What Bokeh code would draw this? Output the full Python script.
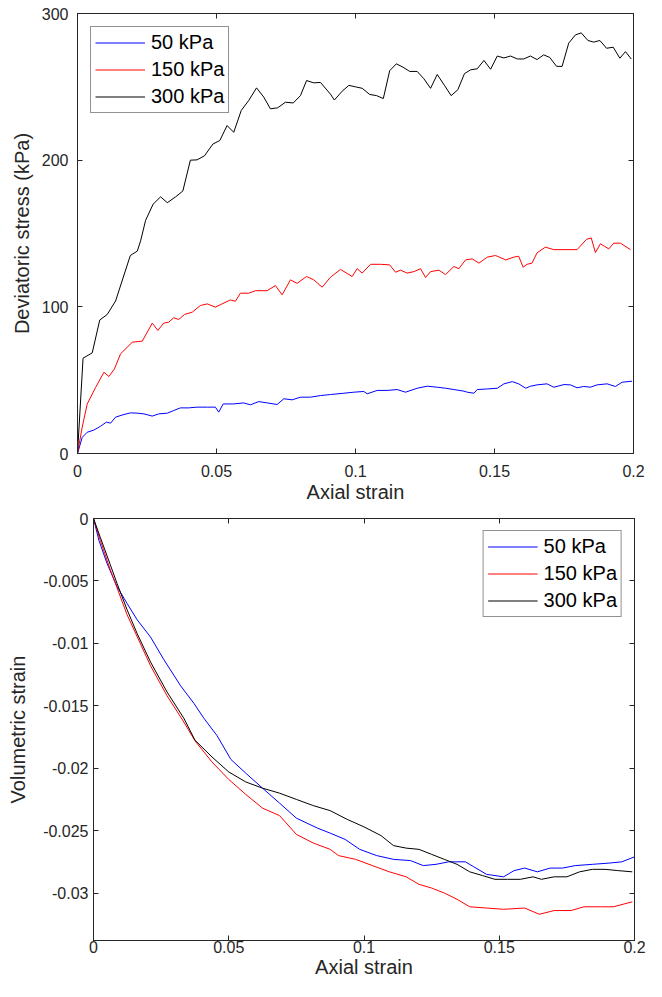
from bokeh.plotting import figure
from bokeh.models import Range1d, LinearAxis, FixedTicker, CustomJSTickFormatter, Legend, LegendItem
from bokeh.layouts import column
from bokeh.embed import file_html
from bokeh.resources import INLINE

# ---------------- data ----------------
series_names = ["50 kPa", "150 kPa", "300 kPa"]
series_colors = ["#0000FF", "#FF0000", "#000000"]

x_ticks = [0, 0.05, 0.1, 0.15, 0.2]
x_tick_labels = ["0", "0.05", "0.1", "0.15", "0.2"]
dev_ticks = [0, 100, 200, 300]
dev_tick_labels = ["0", "100", "200", "300"]
vol_ticks = [0, -0.005, -0.01, -0.015, -0.02, -0.025, -0.03]
vol_tick_labels = ["0", "-0.005", "-0.01", "-0.015", "-0.02", "-0.025", "-0.03"]

dev_50 = [(0, 0), (.0017, 11), (.0035, 14.5), (.0059, 16), (.0083, 18.6), (.0104, 21.4), (.0119, 20.7),
          (.0137, 24.8), (.0167, 26.6), (.0191, 27.7), (.0215, 27.5), (.0239, 27), (.0269, 25.5),
          (.0292, 27), (.0323, 27.5), (.0346, 29.3), (.037, 31.1), (.04, 31.1), (.043, 31.6),
          (.0467, 31.6), (.0496, 31.6), (.0508, 28.2), (.0524, 33.8), (.0562, 33.8), (.0598, 34.5),
          (.0622, 33.2), (.0652, 35.4), (.0682, 34.5), (.0718, 33.4), (.0742, 37.3), (.0772, 36.6),
          (.0802, 38.4), (.0838, 38.4), (.0874, 39.5), (.091, 40.2), (.0958, 41.1), (.0994, 41.8),
          (.103, 42.3), (.1042, 40.7), (.1078, 43), (.1114, 43), (.115, 43.6), (.118, 41.8),
          (.1222, 44.5), (.1258, 45.9), (.1294, 45.2), (.1324, 44.5), (.1354, 43.6), (.139, 42.5),
          (.1402, 41.8), (.1426, 41.1), (.1438, 43.6), (.1474, 44), (.151, 44.5), (.1534, 47.5),
          (.1564, 49), (.1587, 47.5), (.1612, 44.5), (.163, 45.9), (.1653, 46.8), (.1689, 47.5),
          (.1713, 45.2), (.175, 47), (.1773, 46.8), (.1797, 44.8), (.1821, 45.7), (.1845, 45.2),
          (.1869, 46.8), (.1905, 47.5), (.1935, 45.7), (.1959, 48.6), (.1995, 49.3)]

dev_150 = [(0, 0), (.0017, 18), (.0035, 33.8), (.0065, 45), (.0095, 55.4), (.0113, 52.5), (.0133, 57.7),
           (.0155, 68), (.0197, 75.9), (.0233, 76.6), (.0269, 88.9), (.0289, 83.9), (.031, 88.9),
           (.0328, 89.5), (.0346, 92.5), (.0364, 91.4), (.0385, 94.8), (.0413, 96.4), (.0442, 100.9),
           (.0467, 102), (.0496, 99.8), (.052, 102), (.055, 104.7), (.0568, 103.8), (.0586, 109.3),
           (.0616, 109.3), (.064, 111), (.0682, 111), (.0712, 114.5), (.0736, 108.2), (.0766, 118.4),
           (.079, 116), (.0824, 120.7), (.085, 118.4), (.088, 113.4), (.091, 120.2), (.0946, 125.5),
           (.0988, 120.7), (.1006, 126), (.1024, 123), (.1054, 129), (.109, 129), (.1123, 128.6),
           (.1144, 123.6), (.1162, 125), (.1186, 123), (.121, 124), (.1234, 126), (.1252, 120),
           (.127, 124), (.13, 125), (.1324, 122), (.1354, 127.5), (.1372, 126), (.1396, 132),
           (.142, 132.7), (.1444, 129.8), (.1474, 133.9), (.1504, 135), (.154, 132), (.157, 133.9),
           (.1587, 134.5), (.1603, 127), (.1617, 129), (.1635, 129.8), (.1653, 136.8), (.1683, 140.7),
           (.1713, 139), (.175, 139), (.1797, 139), (.1831, 146), (.1848, 147), (.1863, 137),
           (.1881, 143), (.1911, 139.5), (.1929, 143.4), (.1953, 143.4), (.1989, 139)]

dev_300 = [(0, 0), (.002, 65), (.0053, 68.6), (.008, 91), (.0107, 94.8), (.0137, 104), (.019, 135),
           (.0215, 138), (.0227, 145), (.0245, 159), (.0272, 170), (.0299, 175), (.0323, 171),
           (.0353, 175), (.0379, 179), (.0406, 200), (.043, 200.2), (.0457, 203), (.0487, 211),
           (.0512, 213.4), (.0538, 223.6), (.0562, 219), (.0589, 233.9), (.0616, 240.7), (.0644, 249.3),
           (.067, 243), (.0694, 235), (.072, 235.7), (.0748, 239.5), (.0776, 239), (.0802, 244),
           (.0824, 254.3), (.085, 252.7), (.0874, 253), (.091, 245), (.0924, 241), (.0952, 247),
           (.0976, 251), (.1, 250), (.1024, 249), (.1051, 244.8), (.1076, 244), (.11, 242),
           (.1123, 261), (.1147, 265.7), (.1171, 263.4), (.1195, 260.5), (.1222, 260.5), (.1246, 255.5),
           (.127, 249), (.1294, 258.4), (.132, 251), (.1344, 244), (.1368, 248), (.1392, 259),
           (.1414, 261.6), (.1438, 262.3), (.1462, 268), (.1486, 262), (.151, 271), (.1534, 269.7),
           (.1558, 271), (.1582, 269), (.1605, 269), (.1629, 271), (.1653, 268.6), (.1677, 271.8),
           (.1699, 270), (.1723, 264), (.1743, 263.9), (.1767, 279.8), (.1791, 285.4), (.1812, 286.8),
           (.1836, 281.6), (.1857, 280.5), (.1879, 281.6), (.1903, 276.3), (.1927, 277), (.1951, 269.5),
           (.1971, 274), (.1992, 269)]

vol_50 = [(0, 0), (.002, -.00175), (.005, -.0036), (.0087, -.00545), (.0124, -.0068), (.0161, -.0081),
          (.0211, -.0095), (.026, -.0113), (.0322, -.0134), (.0371, -.0148), (.0408, -.016),
          (.0457, -.0174), (.0508, -.0193), (.0563, -.0204), (.0625, -.0216), (.0688, -.0228),
          (.075, -.024), (.0828, -.0248), (.0875, -.0252), (.093, -.0257), (.0984, -.0265),
          (.1047, -.027), (.1109, -.0273), (.1172, -.0274), (.1219, -.0278), (.1266, -.0277),
          (.1313, -.0275), (.1375, -.0275), (.1406, -.0279), (.1453, -.0285), (.1516, -.0287),
          (.1555, -.0282), (.1594, -.028), (.1641, -.0283), (.1688, -.028), (.1734, -.028),
          (.1781, -.0278), (.1844, -.0277), (.1906, -.0276), (.1953, -.0275), (.2, -.0271)]

vol_150 = [(0, 0), (.0025, -.00175), (.0062, -.0041), (.0124, -.0077), (.0211, -.0118), (.0272, -.0142),
           (.0334, -.0163), (.0375, -.0178), (.0438, -.0195), (.05, -.0209), (.0563, -.0221),
           (.0625, -.0232), (.0688, -.0238), (.075, -.0253), (.0813, -.026), (.0875, -.0265),
           (.0906, -.027), (.0969, -.0273), (.1031, -.0278), (.1094, -.0283), (.1156, -.0287),
           (.1203, -.0293), (.125, -.0296), (.1297, -.03), (.1344, -.0305), (.1391, -.0311),
           (.1453, -.0312), (.1516, -.0313), (.1594, -.0312), (.1648, -.0317), (.1703, -.0314),
           (.1766, -.0314), (.1813, -.0311), (.1875, -.0311), (.1922, -.0311), (.1992, -.0307)]

vol_300 = [(0, 0), (.0025, -.0015), (.0062, -.0037), (.0087, -.0052), (.0124, -.0073), (.0161, -.0092),
           (.0211, -.0115), (.0272, -.0139), (.0334, -.016), (.0375, -.01775), (.0438, -.0191),
           (.05, -.0203), (.0563, -.0211), (.0625, -.0216), (.0688, -.022), (.075, -.0225),
           (.0813, -.023), (.0875, -.0234), (.0938, -.0241), (.1, -.0247), (.1063, -.0254),
           (.1109, -.0262), (.1156, -.0264), (.1203, -.0265), (.125, -.0269), (.1297, -.0273),
           (.1344, -.0277), (.1391, -.0283), (.1438, -.0286), (.1484, -.0289), (.1531, -.0289),
           (.1578, -.0289), (.1625, -.0287), (.1656, -.0289), (.1703, -.0287), (.175, -.0287),
           (.1797, -.0283), (.1844, -.0281), (.1891, -.0281), (.1938, -.0282), (.1992, -.0283)]

x_limits = (0, 0.2)
dev_limits = (0, 300)
vol_limits = (-0.0338, 0)

FONT = "Liberation Sans"
AXC = "#262626"


def fmt(ticks, labels):
    return CustomJSTickFormatter(args=dict(t=ticks, l=labels), code="""
        let i = 0, b = 1e99;
        for (let k = 0; k < t.length; k++) { const d = Math.abs(t[k] - tick); if (d < b) { b = d; i = k; } }
        return l[i];
    """)


def style_axis(ax, ticks, labels, show_labels=True):
    ax.ticker = FixedTicker(ticks=ticks)
    ax.minor_tick_line_color = None
    ax.major_tick_in = 5
    ax.major_tick_out = 0
    ax.major_tick_line_color = AXC
    ax.axis_line_color = AXC
    ax.axis_label_text_font = FONT
    ax.axis_label_text_font_style = "normal"
    ax.axis_label_text_font_size = "20px"
    ax.axis_label_text_color = AXC
    if show_labels:
        ax.formatter = fmt(ticks, labels)
        ax.major_label_text_font = FONT
        ax.major_label_text_color = AXC
        ax.major_label_text_font_size = "16px"
    else:
        ax.major_label_text_color = None
        ax.major_label_text_font_size = "0px"
        ax.major_label_standoff = 0


def make_fig(width, height, lb, rb, tb, bb, ylim, yticks, ylabels, ylabel, series, legend_loc, legend_margin,
             x_standoff, xl_standoff, y_standoff, yl_standoff):
    p = figure(width=width, height=height, output_backend="svg", toolbar_location=None,
               x_range=Range1d(*x_limits), y_range=Range1d(*ylim),
               min_border_left=lb, min_border_right=rb, min_border_top=tb, min_border_bottom=bb)
    p.frame_align = False
    p.background_fill_color = "white"
    p.border_fill_color = "white"
    p.outline_line_color = AXC
    p.outline_line_width = 1
    p.xgrid.visible = False
    p.ygrid.visible = False

    style_axis(p.xaxis[0], x_ticks, x_tick_labels)
    p.xaxis[0].axis_label = "Axial strain"
    p.xaxis[0].major_label_standoff = x_standoff
    p.xaxis[0].axis_label_standoff = xl_standoff
    style_axis(p.yaxis[0], yticks, ylabels)
    p.yaxis[0].axis_label = ylabel
    p.yaxis[0].major_label_standoff = y_standoff
    p.yaxis[0].axis_label_standoff = yl_standoff

    top = LinearAxis()
    style_axis(top, x_ticks, x_tick_labels, show_labels=False)
    p.add_layout(top, "above")
    right = LinearAxis()
    style_axis(right, yticks, ylabels, show_labels=False)
    p.add_layout(right, "right")

    items = []
    for name, color, data in zip(series_names, series_colors, series):
        xs = [d[0] for d in data]
        ys = [d[1] for d in data]
        r = p.line(xs, ys, line_color=color, line_width=1)
        items.append(LegendItem(label=name, renderers=[r]))

    leg = Legend(items=items, location=legend_loc, margin=legend_margin,
                 label_text_font=FONT, label_text_font_size="20px", label_text_color="black",
                 border_line_color=AXC, border_line_width=1, background_fill_color="white",
                 background_fill_alpha=1, padding=4, spacing=4, glyph_width=50, glyph_height=23,
                 label_height=23, label_standoff=6)
    p.add_layout(leg, "center")
    return p


# canvas layout: top figure 0..507, bottom figure 507..981
p1 = make_fig(646, 507, 77, 13, 13, 54, dev_limits, dev_ticks, dev_tick_labels, "Deviatoric stress (kPa)",
              [dev_50, dev_150, dev_300], "top_left", 13, 11, 1, 9, 6)
p2 = make_fig(646, 474, 93, 12, 11, 41, vol_limits, vol_ticks, vol_tick_labels, "Volumetric strain",
              [vol_50, vol_150, vol_300], "top_right", 12, 0, 0, 5, 11)

layout = column(p1, p2, spacing=0)
open("out.html", "w").write(file_html(layout, INLINE))
